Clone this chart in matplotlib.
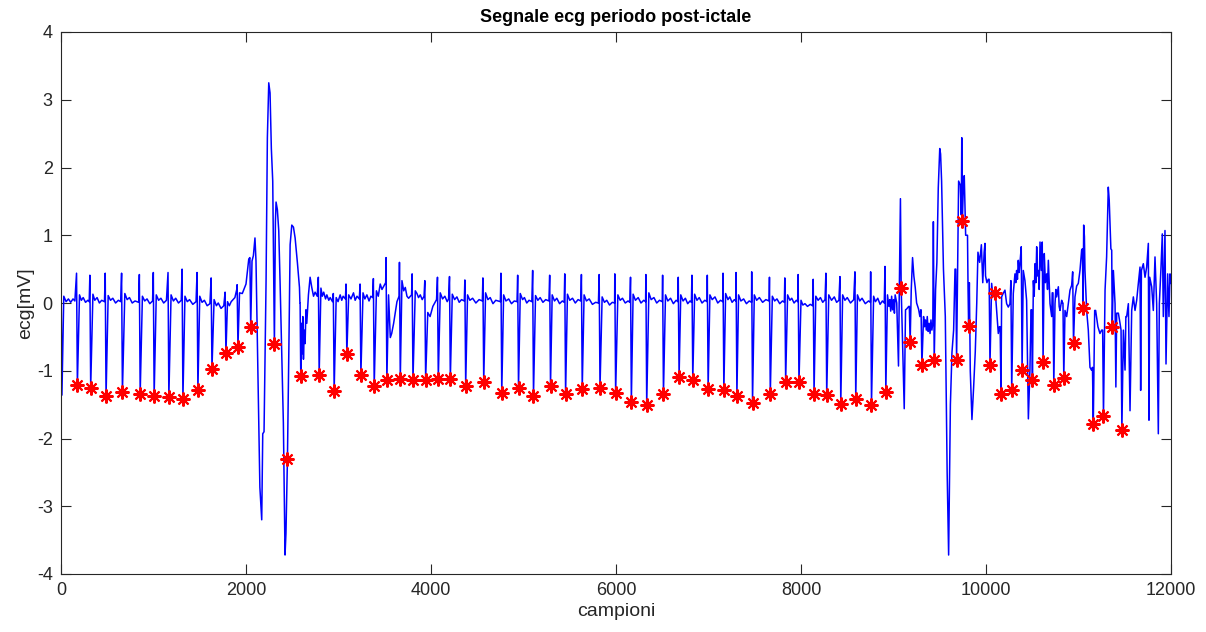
import numpy as np
import matplotlib
matplotlib.use("Agg")
import matplotlib.pyplot as plt

# ---- data ----
# red asterisk markers (detected beats)
r_x = [177, 321, 487, 664, 856, 1007, 1166, 1318, 1480, 1632, 1783, 1913,
       2051, 2307, 2448, 2592, 2791, 2953, 3090, 3242, 3386, 3523, 3668, 3805, 3942,
       4079, 4209, 4375, 4570, 4765, 4946, 5108, 5292, 5455, 5635, 5827, 5996,
       6166, 6332, 6513, 6682, 6830, 6996, 7166, 7307, 7476, 7668, 7834, 7978,
       8141, 8278, 8430, 8592, 8762, 8917, 9083, 9180, 9307, 9440, 9682, 9744, 9812,
       10043, 10101, 10162, 10278, 10390, 10502, 10617, 10733, 10841, 10946, 11050,
       11160, 11270, 11365, 11469]
r_y = [-1.21, -1.25, -1.38, -1.32, -1.34, -1.37, -1.39, -1.42, -1.29, -0.98, -0.74, -0.65,
       -0.36, -0.61, -2.30, -1.08, -1.06, -1.30, -0.76, -1.06, -1.23, -1.14, -1.12, -1.14, -1.13,
       -1.12, -1.12, -1.22, -1.16, -1.33, -1.26, -1.37, -1.22, -1.35, -1.27, -1.26, -1.33,
       -1.46, -1.51, -1.35, -1.09, -1.13, -1.27, -1.29, -1.37, -1.47, -1.35, -1.16, -1.17,
       -1.34, -1.36, -1.49, -1.42, -1.50, -1.31, 0.22, -0.58, -0.92, -0.84, -0.84, 1.21, -0.34,
       -0.92, 0.15, -1.34, -1.29, -0.99, -1.13, -0.87, -1.21, -1.10, -0.59, -0.08,
       -1.78, -1.67, -0.36, -1.88]
nan = np.nan
# height of the upward QRS spike just before each marked trough (nan: marker lies on the trace)
r_top = [0.44, 0.41, 0.44, 0.44, 0.42, 0.45, 0.45, 0.50, 0.45, 0.37, 0.16, 0.27,
         0.67, nan, nan, 0.00, 0.38, 0.14, 0.28, 0.28, 0.36, 0.67, 0.60, 0.43, 0.33,
         0.38, 0.39, 0.34, 0.37, 0.44, 0.41, 0.48, 0.41, 0.43, 0.42, 0.42, 0.43,
         0.38, 0.42, 0.41, 0.38, 0.41, 0.41, 0.44, 0.45, 0.46, 0.38, 0.37, 0.42,
         0.35, 0.44, 0.39, 0.46, 0.46, 0.54, nan, -0.05, -0.10, 1.20, 0.50, nan, nan,
         0.35, nan, -0.35, 0.33, 0.83, -0.10, 0.90, 0.15, 0.00, 0.46, nan,
         -0.95, -0.40, nan, -0.40]

# the rest of the ECG trace (baseline and waves), (sample, mV)
ecg_pts = [
    (0, 0.46), (10, -1.36), (30, 0.10), (55, 0.02), (80, 0.06), (105, 0.01), (130, 0.06), (150, 0.03),
    (200, 0.12), (220, 0.04), (240, 0.08), (265, 0.01), (290, 0.04), (305, 0.02),
    (345, 0.13), (365, 0.04), (390, 0.08), (415, 0.0), (440, 0.04), (470, 0.02),
    (510, 0.11), (535, 0.04), (560, 0.07), (590, 0.0), (620, 0.04), (645, 0.02),
    (690, 0.14), (715, 0.05), (740, 0.08), (770, 0.0), (800, 0.03), (840, 0.01),
    (880, 0.10), (905, 0.03), (930, 0.06), (960, -0.01), (990, 0.03),
    (1030, 0.12), (1055, 0.04), (1080, 0.07), (1110, 0.0), (1140, 0.04),
    (1190, 0.12), (1215, 0.03), (1240, 0.07), (1270, 0.0), (1300, 0.04),
    (1340, 0.10), (1365, 0.02), (1390, 0.05), (1425, -0.02), (1460, 0.02),
    (1500, 0.10), (1525, 0.01), (1550, 0.04), (1580, -0.04), (1610, -0.01),
    (1655, 0.05), (1680, -0.04), (1700, 0.0), (1730, -0.08), (1760, -0.04),
    (1800, 0.02), (1820, -0.04), (1840, 0.02), (1880, 0.08), (1900, 0.20),
    (1930, 0.15), (1960, 0.14), (2000, 0.28), (2030, 0.65),
    (2065, 0.62), (2080, 0.70), (2097, 0.96), (2108, 0.62), (2150, -2.72), (2170, -3.20),
    (2181, -1.93), (2195, -1.90), (2217, 0.33), (2231, 2.44), (2246, 3.25), (2260, 3.10),
    (2274, 2.28), (2289, 1.80), (2307, -0.61), (2318, 1.20), (2325, 1.49), (2339, 1.38),
    (2354, 1.07), (2368, 0.33), (2386, -0.72), (2404, -1.77), (2422, -3.72), (2432, -3.40),
    (2448, -2.30), (2465, -0.50), (2477, 0.86), (2495, 1.15), (2513, 1.12), (2531, 0.96),
    (2556, 0.59), (2578, 0.23), (2585, 0.00),
    (2600, -0.30), (2607, -0.75), (2614, -0.20), (2621, -0.83), (2630, -0.40), (2639, -0.60),
    (2648, -0.10), (2657, -0.30), (2675, 0.12), (2693, 0.38), (2711, 0.23), (2730, 0.10),
    (2747, 0.16), (2770, 0.10),
    (2810, 0.22), (2825, 0.10), (2840, 0.16), (2860, 0.06), (2874, 0.12), (2895, 0.04),
    (2910, 0.08), (2935, 0.02),
    (2975, 0.08), (2995, 0.02), (3018, 0.12), (3035, 0.04), (3050, 0.10), (3075, 0.06),
    (3110, 0.12), (3135, 0.06), (3162, 0.15), (3180, 0.04), (3200, 0.10), (3225, 0.06),
    (3265, 0.15), (3285, 0.06), (3307, 0.12), (3330, 0.03), (3350, 0.10), (3370, 0.08),
    (3410, 0.18), (3430, 0.10), (3451, 0.28), (3470, 0.20), (3490, 0.25), (3510, 0.30),
    (3541, 0.12), (3560, -0.51), (3575, -0.45), (3596, -0.30), (3632, 0.02), (3655, 0.10),
    (3686, 0.33), (3705, 0.18), (3722, 0.23), (3740, 0.10), (3758, 0.07), (3790, 0.12),
    (3830, 0.18), (3848, 0.14), (3865, 0.08), (3884, 0.12), (3905, 0.05), (3925, 0.10),
    (3965, -0.14), (3990, -0.20), (4020, -0.05), (4060, 0.05),
    (4100, 0.15), (4125, 0.06), (4150, 0.10), (4175, 0.02), (4190, 0.06),
    (4230, 0.13), (4255, 0.05), (4280, 0.09), (4305, 0.01), (4330, 0.05), (4360, 0.03),
    (4395, 0.12), (4420, 0.04), (4450, 0.07), (4485, 0.0), (4520, 0.05), (4555, 0.03),
    (4590, 0.15), (4615, 0.05), (4640, 0.08), (4670, -0.01), (4700, 0.04), (4750, 0.02),
    (4785, 0.12), (4810, 0.03), (4840, 0.06), (4870, -0.01), (4900, 0.03), (4930, 0.02),
    (4965, 0.14), (4990, 0.05), (5010, 0.08), (5035, 0.0), (5060, 0.04), (5090, 0.02),
    (5130, 0.11), (5155, 0.04), (5180, 0.08), (5210, 0.01), (5240, 0.05), (5275, 0.03),
    (5310, 0.12), (5335, 0.03), (5360, 0.07), (5390, -0.01), (5420, 0.03), (5440, 0.01),
    (5475, 0.13), (5500, 0.04), (5530, 0.07), (5560, 0.0), (5590, 0.05), (5620, 0.03),
    (5655, 0.12), (5680, 0.03), (5710, 0.06), (5745, -0.02), (5780, 0.01), (5810, 0.0),
    (5850, 0.09), (5875, 0.01), (5900, 0.04), (5930, -0.03), (5960, 0.01), (5985, 0.0),
    (6020, 0.12), (6045, 0.04), (6070, 0.07), (6100, 0.0), (6130, 0.03), (6150, 0.01),
    (6185, 0.13), (6210, 0.04), (6240, 0.08), (6270, 0.0), (6300, 0.04), (6320, 0.02),
    (6355, 0.15), (6380, 0.05), (6410, 0.08), (6440, 0.0), (6470, 0.04), (6500, 0.02),
    (6535, 0.12), (6560, 0.03), (6590, 0.07), (6620, -0.01), (6650, 0.04), (6670, 0.02),
    (6700, 0.12), (6725, 0.03), (6750, 0.07), (6775, -0.01), (6800, 0.03), (6815, 0.01),
    (6850, 0.13), (6875, 0.04), (6900, 0.08), (6930, 0.0), (6960, 0.04), (6985, 0.02),
    (7015, 0.12), (7040, 0.05), (7070, 0.09), (7100, 0.0), (7130, 0.04), (7155, 0.02),
    (7185, 0.14), (7210, 0.05), (7230, 0.09), (7255, 0.01), (7280, 0.05), (7295, 0.03),
    (7325, 0.12), (7350, 0.03), (7380, 0.06), (7410, -0.01), (7440, 0.03), (7465, 0.01),
    (7495, 0.12), (7520, 0.04), (7550, 0.08), (7585, 0.01), (7620, 0.05), (7655, 0.03),
    (7690, 0.10), (7715, 0.03), (7740, 0.06), (7770, -0.01), (7800, 0.03), (7820, 0.01),
    (7855, 0.12), (7880, 0.04), (7900, 0.07), (7925, 0.0), (7950, 0.04), (7965, 0.02),
    (8000, 0.04), (8020, -0.03), (8043, -0.01), (8070, -0.05), (8100, -0.02), (8125, -0.04),
    (8160, 0.10), (8185, 0.04), (8210, 0.08), (8235, 0.01), (8260, 0.05),
    (8300, 0.12), (8330, 0.04), (8360, 0.09), (8385, 0.01), (8410, 0.04),
    (8450, 0.12), (8475, 0.04), (8500, 0.08), (8535, 0.0), (8570, 0.05),
    (8610, 0.12), (8635, 0.03), (8660, 0.07), (8695, -0.01), (8730, 0.03), (8750, 0.01),
    (8785, 0.10), (8805, 0.02), (8830, 0.07), (8855, -0.02), (8880, 0.03), (8900, 0.0),
    (8935, 0.12), (8950, -0.05), (8960, 0.05), (8970, -0.12), (8980, 0.10), (8990, -0.10),
    (9000, 0.05), (9010, -0.15), (9018, 0.12), (9035, 0.00),
    (9054, -0.93), (9062, 0.10), (9075, 1.54), (9083, 0.22), (9116, -1.56), (9130, -0.10),
    (9141, -0.09), (9165, -0.05),
    (9192, 0.20), (9206, 0.67), (9220, 0.40), (9235, 0.23), (9250, 0.0), (9271, -0.09),
    (9285, -0.20), (9295, -0.10),
    (9325, -0.20), (9335, -0.35), (9345, -0.25), (9355, -0.40), (9365, -0.20), (9375, -0.42),
    (9385, -0.30), (9395, -0.45), (9405, -0.25), (9415, -0.40), (9425, -0.30),
    (9455, 0.20), (9469, 0.60), (9484, 1.70), (9500, 2.28), (9509, 2.20), (9520, 1.80),
    (9540, 0.50), (9560, -0.20), (9580, -2.50), (9596, -3.72), (9615, -1.50), (9632, -0.73),
    (9650, -0.40), (9665, 0.50),
    (9704, 1.80), (9722, 1.74), (9733, 1.30), (9738, 2.44), (9744, 1.21), (9755, 1.70),
    (9765, 1.88), (9780, 1.00), (9800, 1.00), (9806, 0.20), (9812, -0.34), (9820, 0.30),
    (9830, -1.00), (9848, -1.72), (9866, -1.25), (9884, -0.72), (9900, 0.00), (9913, 0.75),
    (9931, 0.60), (9950, 0.86), (9965, 0.30), (9980, 0.75), (9989, 0.88), (9995, 0.40),
    (10010, 0.30), (10025, 0.35),
    (10061, 0.29), (10075, 0.09), (10101, 0.15), (10115, -0.11), (10133, -0.45), (10145, -0.35),
    (10169, 0.09), (10185, 0.14), (10205, 0.19), (10223, -0.01), (10241, -0.06), (10259, -0.01),
    (10295, 0.14), (10313, 0.43), (10322, 0.30), (10331, 0.48), (10340, 0.35), (10349, 0.63),
    (10358, 0.45), (10367, 0.58),
    (10403, 0.48), (10421, 0.33), (10439, 0.04), (10458, -1.71), (10475, -0.99), (10487, -0.10),
    (10512, 0.33), (10521, 0.10), (10530, 0.58), (10539, 0.30), (10548, 0.83), (10557, 0.40),
    (10566, 0.48), (10575, 0.20), (10584, 0.90), (10598, 0.48),
    (10630, 0.73), (10642, 0.30), (10656, 0.43), (10665, 0.20), (10674, 0.63), (10692, -0.01),
    (10710, -0.20), (10716, 0.15),
    (10746, -0.01), (10755, 0.20), (10764, 0.09), (10782, 0.24), (10791, -0.05), (10800, -0.11),
    (10818, 0.04), (10826, 0.00),
    (10854, -0.11), (10872, -0.20), (10890, -0.01), (10908, 0.19), (10926, 0.26),
    (10962, 0.09), (10980, 0.25), (10998, 0.29), (11016, 0.48), (11034, 0.78), (11042, 0.80),
    (11050, -0.08), (11056, 1.15), (11064, 0.98), (11070, 0.48), (11088, -0.11), (11106, -0.40),
    (11124, -0.95), (11140, -0.99),
    (11175, -0.11), (11185, -0.11), (11210, -0.35), (11232, -0.45), (11250, -0.40),
    (11287, 0.19), (11304, 0.68), (11322, 1.71), (11332, 1.52), (11350, 0.80), (11359, 0.78),
    (11365, -0.36), (11377, 0.48), (11395, -0.01), (11404, -1.24), (11413, -0.15), (11431, -0.15),
    (11449, -0.30),
    (11485, -0.40), (11503, -0.99), (11512, -0.20), (11521, -0.20), (11539, -0.01), (11557, -1.59),
    (11575, -0.11), (11593, 0.09), (11611, -0.11), (11629, 0.04), (11647, 0.29), (11665, 0.53),
    (11672, -1.29), (11680, 0.48), (11701, 0.58), (11719, 0.38), (11737, 0.53), (11755, 0.88),
    (11762, -1.73), (11770, 0.38), (11791, 0.24), (11809, -0.11), (11827, 0.68), (11845, -0.01),
    (11863, -1.93), (11874, -0.01), (11892, 0.53), (11906, 1.02), (11917, -0.20), (11935, 1.07),
    (11946, -0.90), (11964, 0.43), (11978, -0.20), (11989, 0.43), (12000, 0.29),
]

x_ticks = [0, 2000, 4000, 6000, 8000, 10000, 12000]
y_ticks = [-4, -3, -2, -1, 0, 1, 2, 3, 4]
title = "Segnale ecg periodo post-ictale"
x_label = "campioni"
y_label = "ecg[mV]"

# ---- build the trace: baseline points plus the QRS spikes ----
px = [p[0] for p in ecg_pts]
py = [p[1] for p in ecg_pts]
for bx, by, bt in zip(r_x, r_y, r_top):
    if not np.isnan(bt):
        px += [bx - 9, bx]
        py += [bt, by]
order = np.argsort(np.array(px, dtype=float), kind="stable")
line_x = np.array(px, dtype=float)[order]
line_y = np.array(py, dtype=float)[order]

plt.rcParams['font.family'] = ['Liberation Sans', 'DejaVu Sans']
plt.rcParams['path.simplify'] = False
fig = plt.figure(figsize=(12.06, 6.32), dpi=100)
ax = fig.add_axes([61 / 1206, 58 / 632, 1110 / 1206, 542 / 632])

ax.plot(line_x, line_y, color=(0, 0, 1), lw=1.1)
ax.plot(r_x, r_y, linestyle='none', marker=(8, 2, 0), markersize=10,
        markeredgewidth=1.5, color=(1, 0, 0))

ax.set_xlim(0, 12000)
ax.set_ylim(-4, 4)
ax.set_xticks(x_ticks)
ax.set_yticks(y_ticks)
ax.set_xticklabels([str(t) for t in x_ticks])
ax.set_yticklabels([str(t) for t in y_ticks])
ax.tick_params(direction='in', length=7, width=0.8, top=True, right=True,
               labelsize=13, colors=(0.15, 0.15, 0.15), pad=6)
for s in ax.spines.values():
    s.set_color((0.15, 0.15, 0.15))
    s.set_linewidth(0.8)
ax.set_title(title, fontsize=13, fontweight='bold', pad=7)
ax.set_xlabel(x_label, fontsize=14, color=(0.15, 0.15, 0.15), labelpad=3)
ax.set_ylabel(y_label, fontsize=14, color=(0.15, 0.15, 0.15), labelpad=2)

fig.savefig("out.png", dpi=100)
